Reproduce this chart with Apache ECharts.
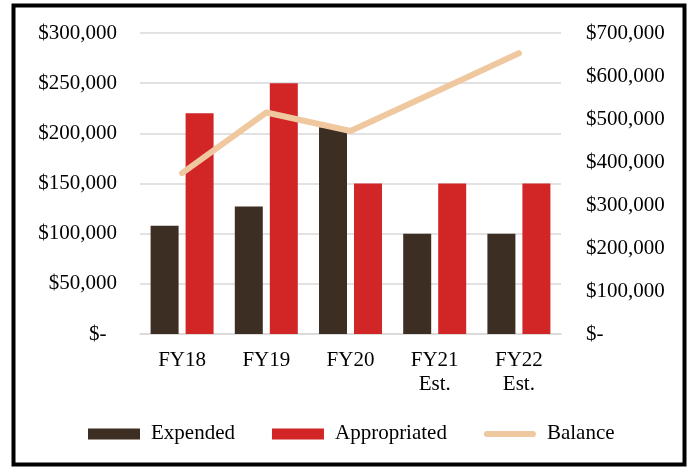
<html>
<head>
<script src="https://cdn.jsdelivr.net/npm/echarts@6/dist/echarts.min.js"></script>
</head>
<body style="margin:0">
<div id="main" style="width:692px;height:468px;"></div>
<script>
// data
var years = ['FY18', 'FY19', 'FY20', 'FY21\nEst.', 'FY22\nEst.'];
var expended = [108000, 127000, 206000, 100000, 100000];
var appropriated = [220000, 250000, 150000, 150000, 150000];
var balance = [374000, 515000, 472000, 562000, 653000];

var font = 'Liberation Serif';

function money(pad) {
  return function (v) {
    if (v === 0) return '$-' + pad;
    return '$' + v.toLocaleString('en-US');
  };
}

var myChart = echarts.init(document.getElementById('main'));
myChart.setOption({
  animation: false,
  textStyle: { fontFamily: font },
  grid: { left: 140, right: 131, top: 33, bottom: 134 },
  legend: {
    bottom: 13,
    left: 83,
    itemWidth: 52,
    itemHeight: 11,
    itemGap: 37,
    symbolKeepAspect: true,
    textStyle: { fontFamily: font, fontSize: 21, color: '#000', padding: [0, 0, 0, 6] },
    data: [
      { name: 'Expended', icon: 'rect' },
      { name: 'Appropriated', icon: 'rect' },
      { name: 'Balance', icon: 'path://M3,0 L49,0 A3,3 0 0 1 49,6 L3,6 A3,3 0 0 1 3,0 Z' }
    ]
  },
  xAxis: {
    type: 'category',
    data: years,
    axisTick: { show: false },
    axisLine: { lineStyle: { color: '#d9d9d9', width: 1.5 } },
    axisLabel: { color: '#000', fontSize: 21, lineHeight: 24, margin: 14, fontFamily: font }
  },
  yAxis: [
    {
      type: 'value', min: 0, max: 300000, interval: 50000,
      axisLabel: { color: '#000', fontSize: 21, margin: 23, fontFamily: font, formatter: money('  ') },
      splitLine: { lineStyle: { color: '#d9d9d9', width: 1.5 } }
    },
    {
      type: 'value', min: 0, max: 700000, interval: 100000,
      axisLabel: { color: '#000', fontSize: 21, margin: 25, fontFamily: font, formatter: money('') },
      splitLine: { show: false }
    }
  ],
  series: [
    { name: 'Expended', type: 'bar', data: expended, barWidth: 28, barGap: '25%',
      itemStyle: { color: '#3d2e24' } },
    { name: 'Appropriated', type: 'bar', data: appropriated, barWidth: 28,
      itemStyle: { color: '#d12526' } },
    { name: 'Balance', type: 'line', yAxisIndex: 1, data: balance, symbol: 'none',
      itemStyle: { color: '#efc8a0' },
      lineStyle: { color: '#efc8a0', width: 6, cap: 'round', join: 'round' } }
  ],
  graphic: [{
    type: 'rect',
    shape: { x: 13.5, y: 5.5, width: 671, height: 459 },
    style: { fill: 'none', stroke: '#000', lineWidth: 4 }
  }]
});
</script>
</body>
</html>
